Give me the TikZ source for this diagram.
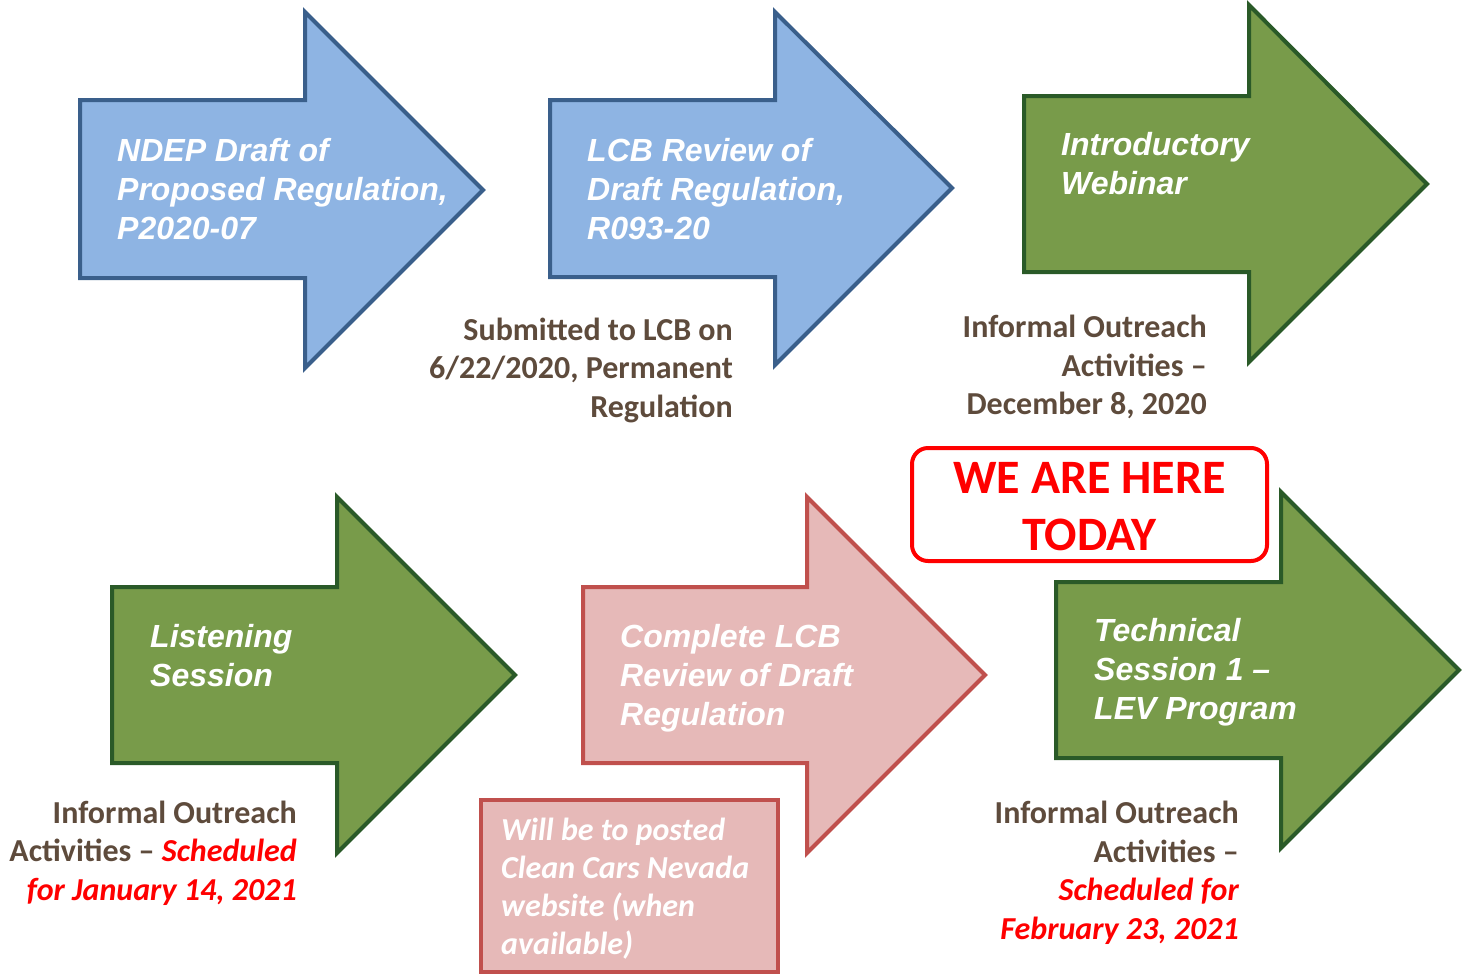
\documentclass[tikz,border=0pt]{standalone}
\usepackage{fontspec}
\setmainfont{Liberation Sans}
\newfontfamily\calfont{Carlito}[BoldItalicFont={Carlito Bold Italic}]
\definecolor{bluefill}{HTML}{8EB4E3}
\definecolor{blueline}{HTML}{3A5F8B}
\definecolor{greenfill}{HTML}{789B4A}
\definecolor{greenline}{HTML}{2A5A28}
\definecolor{pinkfill}{HTML}{E6B9B8}
\definecolor{pinkline}{HTML}{C0504D}
\definecolor{browntext}{HTML}{5E4B3C}
\definecolor{redtext}{HTML}{FF0000}
\tikzset{
  bluearrow/.style={draw=blueline, fill=bluefill, line width=4pt, line join=miter},
  greenarrow/.style={draw=greenline, fill=greenfill, line width=4pt, line join=miter},
  pinkarrow/.style={draw=pinkline, fill=pinkfill, line width=4pt, line join=miter},
  arrowtext/.style={font=\fontsize{32}{39}\selectfont\bfseries\itshape, text=white, align=left, anchor=west, inner sep=0pt},
  notetext/.style={font=\calfont\fontsize{32}{38.5}\selectfont\bfseries, text=browntext, align=right, anchor=east, inner sep=0pt},
  herebox/.style={draw=redtext, line width=4pt, rounded corners=16pt, fill=white},
  heretext/.style={font=\calfont\fontsize{48}{57}\selectfont\bfseries, text=redtext, align=center, inner sep=0pt},
  webbox/.style={draw=pinkline, fill=pinkfill, line width=3.5pt},
  webtext/.style={font=\calfont\fontsize{32}{38}\selectfont\bfseries\itshape, text=white, align=left, anchor=west, inner sep=0pt}
}
% #1 style, #2 left, #3 body top, #4 body bottom, #5 head x, #6 head top, #7 head bottom, #8 tip x, #9 tip y
\newcommand\bigarrow[9]{%
  \path[#1] (#2,#3) -- (#5,#3) -- (#5,#6) -- (#8,#9) -- (#5,#7) -- (#5,#4) -- (#2,#4) -- cycle;%
}
\begin{document}
\begin{tikzpicture}[x=1pt,y=-1pt]
\useasboundingbox (0,0) rectangle (1462,975);

% top row
\bigarrow{bluearrow}{80}{100}{278}{305}{12}{368}{483}{190}
\bigarrow{bluearrow}{550}{100}{277}{775}{12}{365}{952}{188}
\bigarrow{greenarrow}{1024}{96}{272}{1249}{5}{362}{1427}{184}

% bottom row
\bigarrow{greenarrow}{112}{587}{763}{337}{497}{853}{515}{675}
\bigarrow{pinkarrow}{583}{587}{763}{807}{497}{853}{985}{675}
\bigarrow{greenarrow}{1056}{582}{758}{1281}{492}{848}{1459}{670}

% arrow texts
\node[arrowtext] (t1) at (117,189) {NDEP Draft of\\Proposed Regulation,\\P2020-07};
\node[arrowtext] (t2) at (587,189) {LCB Review of\\Draft Regulation,\\R093-20};
\node[arrowtext] (t3) at (1061,164) {Introductory\\Webinar};
\node[arrowtext] (t4) at (150,656) {Listening\\Session};
\node[arrowtext] (t5) at (620,678) {Complete LCB\\Review of Draft\\Regulation};
\node[arrowtext] (t6) at (1094,672) {Technical\\Session 1 –\\LEV Program};

% notes
\node[notetext] (n2) at (733,370) {Submitted to LCB on\\6/22/2020, Permanent\\Regulation};
\node[notetext] (n3) at (1207,367) {Informal Outreach\\Activities –\\December 8, 2020};
\node[notetext] (n4) at (297,853) {Informal Outreach\\Activities – \textcolor{redtext}{\itshape Scheduled}\\\textcolor{redtext}{\itshape for January 14, 2021}};
\node[notetext] (n6) at (1239,873) {Informal Outreach\\Activities –\\\textcolor{redtext}{\itshape Scheduled for}\\\textcolor{redtext}{\itshape February 23, 2021}};

% we are here box
\path[herebox] (912,448) rectangle (1267,561);
\node[heretext] (here) at (1089.5,507) {WE ARE HERE\\TODAY};

% website box
\path[webbox] (481,800) rectangle (778,972);
\node[webtext] (web) at (501,889) {Will be to posted\\Clean Cars Nevada\\website (when\\available)};
\end{tikzpicture}
\end{document}
